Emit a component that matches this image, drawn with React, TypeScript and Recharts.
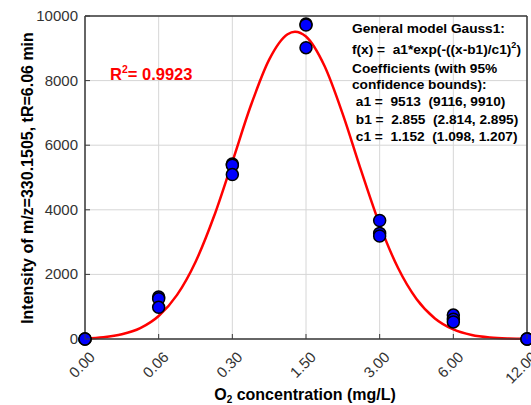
import React from 'react';
import {
  ComposedChart,
  Line,
  Scatter,
  XAxis,
  YAxis,
  CartesianGrid,
  ReferenceLine,
} from 'recharts';

// x positions are category indexes: 0 = 0.00 mg/L ... 6 = 12.00 mg/L
const xTickLabels = ['0.00', '0.06', '0.30', '1.50', '3.00', '6.00', '12.00'];
const xTicks = [0, 1, 2, 3, 4, 5, 6];
const yTicks = [0, 2000, 4000, 6000, 8000, 10000];

// measured replicates
const pointX = [0, 0, 0, 1, 1, 1, 2, 2, 2, 3, 3, 3, 4, 4, 4, 5, 5, 5, 6, 6, 6];
const pointY = [
  0, 0, 0, 1300, 1250, 980, 5420, 5380, 5090, 9750, 9720, 9020, 3670, 3270, 3190,
  740, 610, 530, 0, 0, 0,
];

// fitted Gauss1 curve
const curveX = [
  0, 0.25, 0.5, 0.75, 1, 1.25, 1.5, 1.75, 2, 2.25, 2.5, 2.75, 2.85, 3, 3.25, 3.5,
  3.75, 4, 4.25, 4.5, 4.75, 5, 5.25, 5.5, 5.75, 6,
];
const curveY = [
  20, 57, 146, 337, 712, 1366, 2385, 3791, 5484, 7220, 8649, 9434, 9513, 9364, 8457,
  6954, 5202, 3541, 2196, 1238, 636, 297, 126, 49, 17, 5,
];

const points = pointX.map((x, i) => ({ x, y: pointY[i] }));
const curve = curveX.map((x, i) => ({ x, y: curveY[i] }));

const FONT = '"Liberation Sans", Arial, Helvetica, sans-serif';
const AXIS = '#3a3a3a';

// label + inward tick mark (tickSize/tickMargin are 0, so x/y sit on the axis)
function XTick(props: any) {
  const { x, y, payload } = props;
  const px = x + 11;
  const py = y + 19;
  return (
    <g>
      <line x1={x} y1={y} x2={x} y2={y - 5} stroke={AXIS} strokeWidth={1} />
      <text
        x={px}
        y={py}
        transform={`rotate(-45, ${px}, ${py})`}
        textAnchor="end"
        fontSize={15}
        fontFamily={FONT}
        fill="#333"
      >
        {xTickLabels[payload.value]}
      </text>
    </g>
  );
}

function YTick(props: any) {
  const { x, y, payload } = props;
  return (
    <g>
      <line x1={x} y1={y} x2={x + 5} y2={y} stroke={AXIS} strokeWidth={1} />
      <text
        x={x - 7}
        y={y + 5}
        textAnchor="end"
        fontSize={15}
        fontFamily={FONT}
        fill="#333"
      >
        {payload.value}
      </text>
    </g>
  );
}

function Dot(props: any) {
  return (
    <circle cx={props.cx} cy={props.cy} r={6} fill="#0000ff" stroke="#000" strokeWidth={1.5} />
  );
}

export default function App() {
  const boldText = { fontFamily: FONT, fontWeight: 700, fill: '#000' } as const;
  const pre = { whiteSpace: 'pre' } as const;
  return (
    <div
      style={{
        position: 'absolute',
        left: 0,
        top: 0,
        width: 531,
        height: 405,
        background: '#fff',
        overflow: 'hidden',
      }}
    >
      <ComposedChart
        width={531}
        height={405}
        margin={{ top: 16, right: 4, bottom: 0, left: 0 }}
      >
        <CartesianGrid stroke="#d6d6d6" strokeWidth={1} />
        <XAxis
          type="number"
          dataKey="x"
          domain={[0, 6]}
          ticks={xTicks}
          height={66}
          tickSize={0}
          tickMargin={0}
          tick={<XTick />}
          axisLine={{ stroke: AXIS, strokeWidth: 1.5 }}
          tickLine={false}
          interval={0}
        />
        <YAxis
          type="number"
          domain={[0, 10000]}
          ticks={yTicks}
          width={85}
          tickSize={0}
          tickMargin={0}
          tick={<YTick />}
          axisLine={{ stroke: AXIS, strokeWidth: 1.5 }}
          tickLine={false}
          interval={0}
        />
        {/* box: top and right edges */}
        <ReferenceLine y={10000} stroke={AXIS} strokeWidth={1.5} />
        <ReferenceLine x={6} stroke={AXIS} strokeWidth={1.5} />
        <Scatter data={points} dataKey="y" shape={<Dot />} isAnimationActive={false} />
        <Line
          data={curve}
          dataKey="y"
          type="monotone"
          stroke="#ff0000"
          strokeWidth={2.5}
          dot={false}
          activeDot={false}
          isAnimationActive={false}
        />
      </ComposedChart>

      <svg
        width={531}
        height={405}
        style={{ position: 'absolute', left: 0, top: 0, pointerEvents: 'none' }}
      >
        <text
          x={33}
          y={178}
          transform="rotate(-90, 33, 178)"
          textAnchor="middle"
          fontSize={16}
          {...boldText}
        >
          Intensity of m/z=330.1505, tR=6.06 min
        </text>
        <text x={305} y={400} textAnchor="middle" fontSize={16} {...boldText}>
          O
          <tspan fontSize={10} dy={3}>
            2
          </tspan>
          <tspan dy={-3}> concentration (mg/L)</tspan>
        </text>

        <text x={110} y={80} fontSize={16.5} fontFamily={FONT} fontWeight={700} fill="#ff0000">
          R
          <tspan fontSize={10.5} dy={-7}>
            2
          </tspan>
          <tspan dy={7}>= 0.9923</tspan>
        </text>

        <g fontSize={13.7} {...boldText}>
          <text x={352} y={32.5} xmlSpace="preserve" style={pre}>
            General model Gauss1:
          </text>
          <text x={352} y={53.5} xmlSpace="preserve" style={pre}>
            {'f(x) =  a1*exp(-((x-b1)/c1)'}
            <tspan fontSize={9} dy={-6}>
              2
            </tspan>
            <tspan dy={6}>)</tspan>
          </text>
          <text x={352} y={72.5} xmlSpace="preserve" style={pre}>
            Coefficients (with 95%
          </text>
          <text x={352} y={88.5} xmlSpace="preserve" style={pre}>
            confidence bounds):
          </text>
          <text x={352} y={106} xmlSpace="preserve" style={pre}>
            {' a1 =  9513  (9116, 9910)'}
          </text>
          <text x={352} y={123.5} xmlSpace="preserve" style={pre}>
            {' b1 =  2.855  (2.814, 2.895)'}
          </text>
          <text x={352} y={141} xmlSpace="preserve" style={pre}>
            {' c1 =  1.152  (1.098, 1.207)'}
          </text>
        </g>
      </svg>
    </div>
  );
}
